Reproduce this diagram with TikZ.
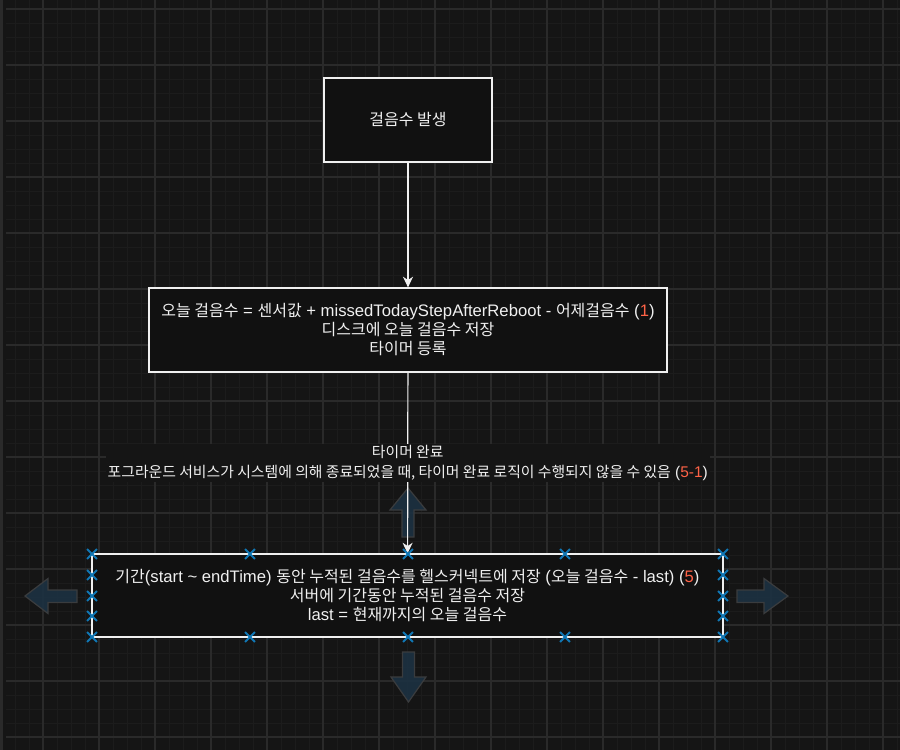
\documentclass[tikz,border=0pt]{standalone}
\usepackage{fontspec}
\setmainfont{Liberation Sans}
\newfontfamily\kr[Scale=0.96]{Noto Sans CJK KR}
\newcommand\krt[1]{{\kr #1}}
\usetikzlibrary{arrows.meta,shapes.misc}
\definecolor{bgc}{HTML}{151515}
\definecolor{gridmaj}{HTML}{2A2A2A}
\definecolor{gridmin}{HTML}{1C1C1C}
\definecolor{boxfill}{HTML}{111111}
\definecolor{txt}{HTML}{F0F0F0}
\definecolor{numred}{HTML}{FF6347}
\definecolor{handle}{HTML}{1077B5}
\definecolor{hovfill}{HTML}{1C3141}
\definecolor{hovdraw}{HTML}{3A3C3E}
\begin{document}
\begin{tikzpicture}[x=0.75pt,y=-0.75pt,
  every node/.style={font=\fontsize{12.5}{14.25}\selectfont, text=txt},
  box/.style={draw=txt, line width=0.9pt, fill=boxfill, align=center, inner sep=0pt},
  conn/.style={draw=txt, line width=0.9pt, -{Stealth[length=8pt,width=7.5pt,inset=2.5pt]}},
  lbl/.style={fill=bgc, align=center, inner sep=1.5pt, font=\fontsize{11.6}{14.5}\selectfont},
  handlemark/.style={cross out, draw=handle, line width=1.4pt, minimum size=6pt, inner sep=0pt},
  hover/.style={fill=hovfill, fill opacity=0.92, draw=hovdraw, line width=0.9pt},
  gmin/.style={draw=gridmin, line width=0.75pt},
  gmaj/.style={draw=gridmaj, line width=1.1pt}
  ]
% background and grid
\fill[bgc] (0,0) rectangle (900,750);
\useasboundingbox (0,0) rectangle (900,750);
\foreach \x in {15,29,...,900} \draw[gmin] (\x,0) -- (\x,750);
\foreach \y in {9,23,...,750} \draw[gmin] (6,\y) -- (900,\y);
\foreach \x in {43,99,...,900} \draw[gmaj] (\x,0) -- (\x,750);
\foreach \y in {9,65,...,750} \draw[gmaj] (6,\y) -- (900,\y);
\fill[gridmaj] (0,0) rectangle (3,750);

% hover arrows
\draw[hover] (408,488) -- (426,510) -- (414,510) -- (414,537) -- (402,537) -- (402,510) -- (390,510) -- cycle;
\draw[hover] (408.5,702) -- (426,677) -- (414.5,677) -- (414.5,652) -- (402.5,652) -- (402.5,677) -- (391,677) -- cycle;
\draw[hover] (25,596) -- (48,578.5) -- (48,590) -- (77,590) -- (77,602.5) -- (48,602.5) -- (48,613.5) -- cycle;
\draw[hover] (788,596) -- (764,578.5) -- (764,590) -- (737,590) -- (737,602.5) -- (764,602.5) -- (764,613.5) -- cycle;

% boxes
\node[box, minimum width={168*0.75pt}, minimum height={84*0.75pt}] (a) at (408,120) {\krt{걸음수 발생}};
\node[box, minimum width={518*0.75pt}, minimum height={84*0.75pt}] (b) at (408,330)
  {\krt{오늘 걸음수} = \krt{센서값} + missedTodayStepAfterReboot - \krt{어제걸음수} (\textcolor{numred}{1})\\
   \krt{디스크에 오늘 걸음수 저장}\\
   \krt{타이머 등록}};
\node[box, minimum width={631*0.75pt}, minimum height={83*0.75pt}] (c) at (407.5,595.5)
  {\krt{기간}(start \char`\~{} endTime) \krt{동안 누적된 걸음수를 헬스커넥트에 저장} (\krt{오늘 걸음수} - last) (\textcolor{numred}{5})\\
   \krt{서버에 기간동안 누적된 걸음수 저장}\\
   last = \krt{현재까지의 오늘 걸음수}};

% connectors
\draw[conn] (a) -- (b);
\draw[conn] (b) -- node[lbl] (lab) {\krt{타이머 완료}\\
  \krt{포그라운드 서비스가 시스템에 의해 종료되었을 때, 타이머 완료 로직이 수행되지 않을 수 있음} (\textcolor{numred}{5-1})} (c);

% selection handles
\foreach \x in {92,250,408,565,723} {
  \node[handlemark] (ht\x) at (\x,554) {};
  \node[handlemark] (hb\x) at (\x,637) {};
}
\foreach \y in {575,596,616} {
  \node[handlemark] (hl\y) at (92,\y) {};
  \node[handlemark] (hr\y) at (723,\y) {};
}
\end{tikzpicture}
\end{document}
